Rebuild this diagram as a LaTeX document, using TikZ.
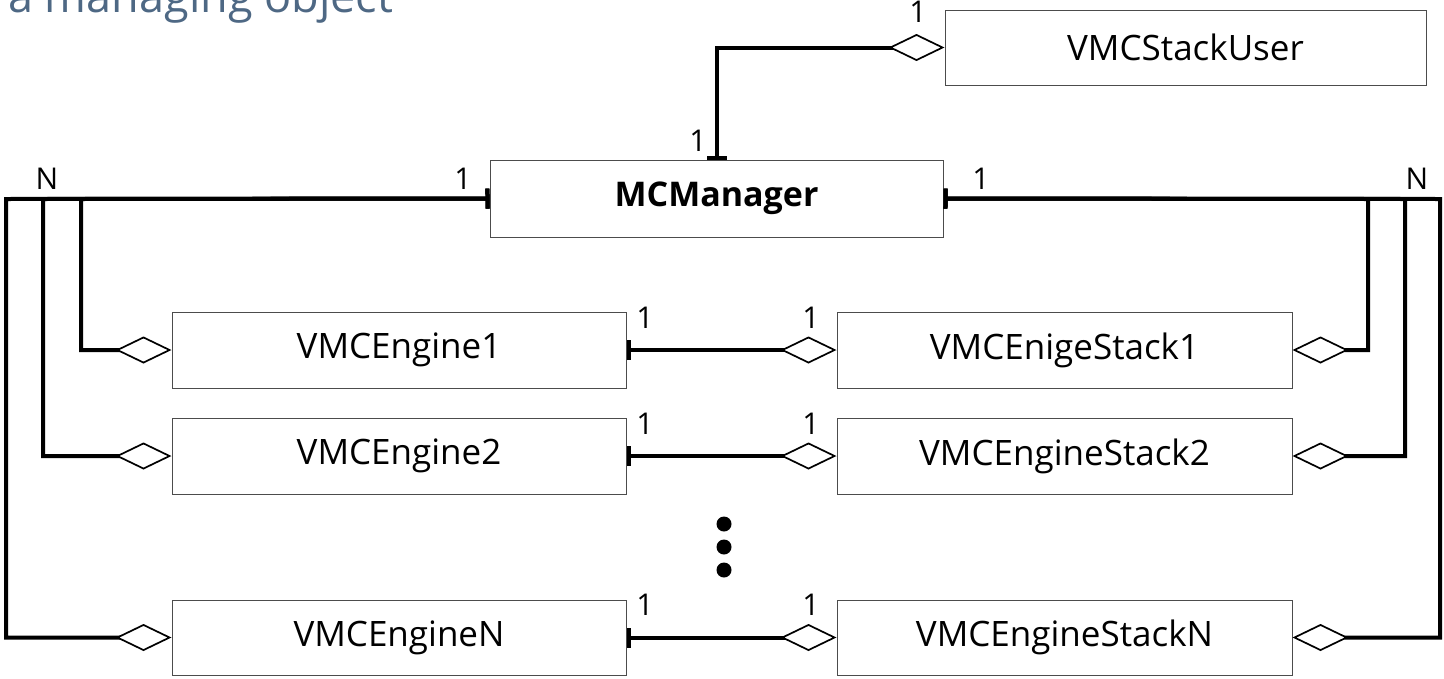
\documentclass[tikz,border=0pt]{standalone}
\usepackage{fontspec}
\setmainfont{Open Sans}
\usetikzlibrary{arrows.meta}
\definecolor{headingblue}{RGB}{78,104,132}
\begin{document}
\begin{tikzpicture}[x=1pt,y=-1pt,
  cls/.style={draw=black!70, line width=1pt, inner sep=0pt, minimum height=76pt,
    font=\fontsize{35}{40}\selectfont},
  card/.style={inner sep=0pt, font=\fontsize{30}{34}\selectfont},
  conn/.style={line width=4pt, line join=miter},
  own/.style={{Bar[width=20pt,line width=4pt]}-{Diamond[open,length=56pt,width=27pt,line width=1.7pt]}},
  dot/.style={circle, fill=black, minimum size=15pt, inner sep=0pt}]
\useasboundingbox (0,0) rectangle (1444,678);

% heading (runs off the top edge)
\node[anchor=base west, inner sep=0pt, text=headingblue,
  font=\fontsize{45}{50}\selectfont] (title) at (8,12) {a managing object};

% classes
\node[cls, minimum width=481pt, minimum height=75pt] (user) at (1185.5,47.5) {VMCStackUser};
\node[cls, minimum width=453pt, minimum height=77pt, font=\fontsize{34}{38}\selectfont\bfseries] (mgr) at (716.5,198.5) {MCManager};
\node[cls, minimum width=454pt] (eng1) at (399,350) {VMCEngine1};
\node[cls, minimum width=454pt] (eng2) at (399,456) {VMCEngine2};
\node[cls, minimum width=454pt, minimum height=75pt] (engN) at (399,637.5) {VMCEngineN};
\node[cls, minimum width=455pt] (stk1) at (1064.5,350) {VMCEnigeStack1};
\node[cls, minimum width=455pt] (stk2) at (1064.5,456) {VMCEngineStack2};
\node[cls, minimum width=455pt, minimum height=75pt] (stkN) at (1064.5,637.5) {VMCEngineStackN};

% bend columns of the bus lines
\coordinate (lA) at (81,199);
\coordinate (lB) at (43,199);
\coordinate (lC) at (6,199);
\coordinate (rA) at (1368,199);
\coordinate (rB) at (1405,199);
\coordinate (rC) at (1440,199);

% manager -> stack user
\draw[conn, own] (mgr.north) |- (user.west);

% manager -> engines (left bus)
\draw[conn, own] (mgr.west) -- (lA) |- (eng1.west);
\draw[conn, own] (mgr.west) -- (lB) |- (eng2.west);
\draw[conn, own] (mgr.west) -- (lC) |- (engN.west);

% manager -> engine stacks (right bus)
\draw[conn, own] (mgr.east) -- (rA) |- (stk1.east);
\draw[conn, own] (mgr.east) -- (rB) |- (stk2.east);
\draw[conn, own] (mgr.east) -- (rC) |- (stkN.east);

% engine -> engine stack
\draw[conn, own] (eng1.east) -- (stk1.west);
\draw[conn, own] (eng2.east) -- (stk2.west);
\draw[conn, own] (engN.east) -- (stkN.west);

% multiplicities
\node[card] (mU) at (918,12) {1};
\node[card] (mM) at (698,141) {1};
\node[card] (mL) at (47,179) {N};
\node[card] (mLm) at (463,179) {1};
\node[card] (mRm) at (981,179) {1};
\node[card] (mR) at (1417,179) {N};
\node[card] (a1) at (645,318) {1};
\node[card] (b1) at (811,318) {1};
\node[card] (a2) at (645,424) {1};
\node[card] (b2) at (811,424) {1};
\node[card] (aN) at (645,605) {1};
\node[card] (bN) at (811,605) {1};

% ellipsis between rows
\node[dot] (d1) at (724,524) {};
\node[dot] (d2) at (724,547) {};
\node[dot] (d3) at (724,570) {};
\end{tikzpicture}
\end{document}
